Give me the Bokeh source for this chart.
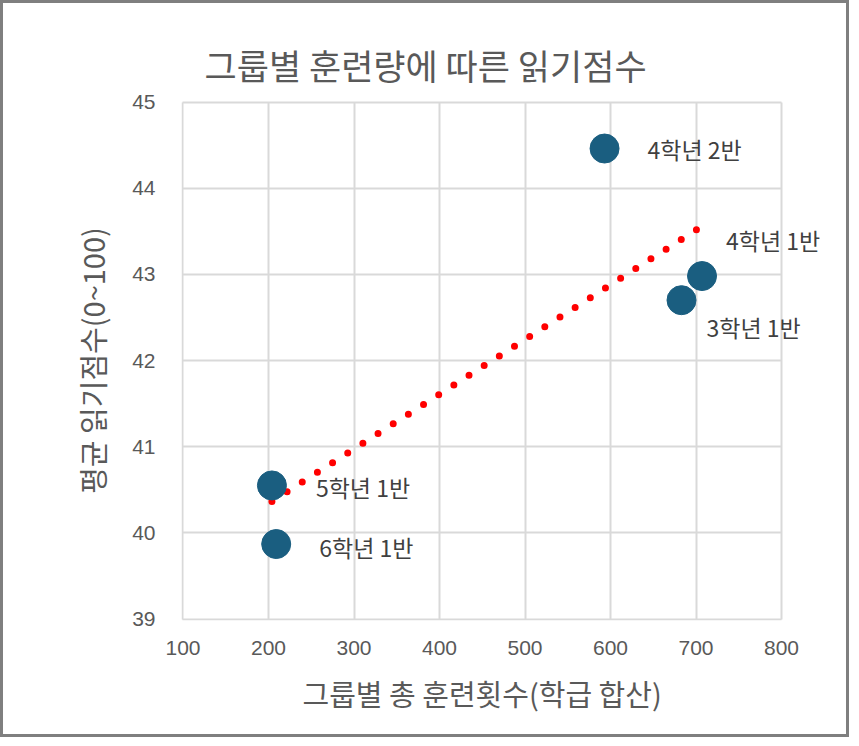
from bokeh.plotting import figure
from bokeh.models import ColumnDataSource, Range1d, FixedTicker, Label, Title
from bokeh.embed import file_html
from bokeh.resources import INLINE
import numpy as np

# data
groups = ['4학년 2반', '4학년 1반', '3학년 1반', '5학년 1반', '6학년 1반']
train_total = [593, 707, 683, 204, 209]
read_score = [44.46, 42.98, 42.70, 40.55, 39.87]
x_ticks = [100, 200, 300, 400, 500, 600, 700, 800]
y_ticks = [39, 40, 41, 42, 43, 44, 45]

KR = "Noto Sans CJK KR"
NUM = "Liberation Sans"
GREY = "#595959"
GRID = "#d9d9d9"

# plot box is 599 x 517 px for 100..800 x 39..45; the frame is made wider on
# the right (with empty space) so that data labels past 800 are not clipped
xlo, xhi, ylo, yhi = x_ticks[0], x_ticks[-1], y_ticks[0], y_ticks[-1]
pxu = 599 / (xhi - xlo)
pyu = 517 / (yhi - ylo)
pad = 1.5
extra = 62
fw = 599 + extra + pad
fh = 517 + 2 * pad

p = figure(frame_width=int(round(fw)), frame_height=int(round(fh)),
           min_border_left=178, min_border_right=3,
           min_border_top=97, min_border_bottom=114,
           x_range=Range1d(xlo - pad / pxu, xlo + (fw - pad) / pxu),
           y_range=Range1d(ylo - pad / pyu, yhi + pad / pyu),
           output_backend="svg", toolbar_location=None,
           title="그룹별 훈련량에 따른 읽기점수")
p.styles = {"border": "3px solid #7f7f7f"}

p.title.text_font = KR
p.title.text_font_size = "35px"
p.title.text_font_style = "normal"
p.title.text_color = GREY
p.title.align = "left"
p.title.offset = 23
p.title.standoff = 21

p.outline_line_color = None
p.grid.grid_line_color = GRID
p.grid.grid_line_width = 2
p.xgrid.bounds = (xlo, xhi)
p.ygrid.bounds = (ylo, yhi)
p.xgrid.cross_bounds = (ylo, yhi)
p.ygrid.cross_bounds = (xlo, xhi)

p.xaxis.ticker = FixedTicker(ticks=x_ticks)
p.yaxis.ticker = FixedTicker(ticks=y_ticks)
p.xaxis.bounds = (xlo, xhi)
p.yaxis.bounds = (ylo, yhi)
for ax in (p.xaxis, p.yaxis):
    ax.axis_line_color = None
    ax.major_tick_line_color = None
    ax.minor_tick_line_color = None
    ax.major_label_text_font = NUM
    ax.major_label_text_font_size = "21px"
    ax.major_label_text_color = GREY
    ax.axis_label_text_font = KR
    ax.axis_label_text_font_size = "29px"
    ax.axis_label_text_font_style = "normal"
    ax.axis_label_text_color = GREY
p.yaxis.axis_label = "평균 읽기점수(0~100)"
p.xaxis.major_label_standoff = 14
p.yaxis.major_label_standoff = 20
p.yaxis.axis_label_standoff = 16

# x axis title, centred on the 100..800 box rather than the wider frame
p.add_layout(Title(text="그룹별 총 훈련횟수(학급 합산)", align="left",
                   offset=121, standoff=24, text_font=KR,
                   text_font_size="29px", text_font_style="normal",
                   text_color=GREY), "below")

# linear trend line (least squares over the points)
slope, icpt = np.polyfit(train_total, read_score, 1)
tx = [min(train_total), max(train_total)]
p.line(tx, [slope * v + icpt for v in tx], line_color="#ff0000",
       line_width=7, line_dash="0 18", line_cap="round")

src = ColumnDataSource(dict(x=train_total, y=read_score))
p.scatter('x', 'y', source=src, size=29, fill_color="#1a5e80",
          line_color="#1a5e80")

# data labels (placement offsets in pixels)
dx = [43, 24, 25, 44, 43]
dy = [0, 36, -27, -2, -3]
for name, xv, yv, ox, oy in zip(groups, train_total, read_score, dx, dy):
    p.add_layout(Label(x=xv, y=yv, text=name, x_offset=ox, y_offset=oy,
                       text_font=KR, text_font_size="23px",
                       text_color="#404040", text_baseline="middle",
                       text_align="left"))

open("out.html", "w").write(file_html(p, INLINE))
